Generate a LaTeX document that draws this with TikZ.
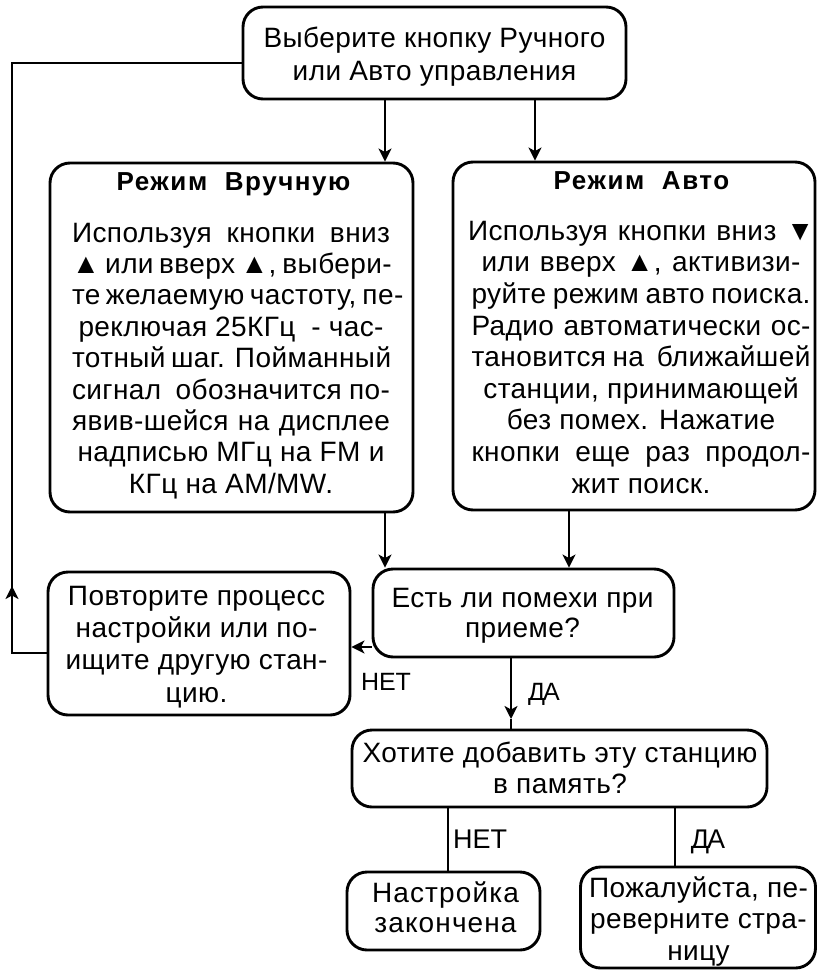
\documentclass[tikz,border=0pt]{standalone}
\usepackage{fontspec}
\setmainfont{Liberation Sans}
\usetikzlibrary{arrows.meta}
\newcommand\fs[2]{\fontsize{#1}{#2}\selectfont}
\newcommand\bd[1]{\fontsize{28}{#1}\selectfont\addfontfeature{LetterSpace=1.5}}
\newcommand\jl[2]{\makebox[#1][s]{#2}}
\begin{document}
\begin{tikzpicture}[x=1pt,y=-1pt,
  box/.style={draw, line width=2.9pt, rounded corners=20pt, inner sep=0pt},
  conn/.style={line width=2.4pt},
  arr/.style={conn, -{Stealth[length=13pt,width=13pt,inset=3.5pt]}},
  txt/.style={inner sep=0pt, align=center, anchor=north},
  lab/.style={inner sep=0pt, anchor=base, font=\fs{25}{30}},
  ttl/.style={inner sep=0pt, anchor=base, font=\fs{26}{30}\bfseries\addfontfeature{LetterSpace=6}}
]
\useasboundingbox (0,0) rectangle (818,971);
% boxes
\node[box, minimum width=383pt, minimum height=92pt] (top) at (434.5,53) {};
\node[box, minimum width=363pt, minimum height=349pt] (manual) at (231.5,337.5) {};
\node[box, minimum width=362pt, minimum height=348pt] (auto) at (634,336) {};
\node[box, minimum width=302pt, minimum height=143pt] (repeat) at (199,643.5) {};
\node[box, minimum width=301pt, minimum height=88pt] (est) at (523.5,613) {};
\node[box, minimum width=415pt, minimum height=77pt] (save) at (559.5,768.5) {};
\node[box, minimum width=193pt, minimum height=78pt] (done) at (443.5,911) {};
\node[box, minimum width=235pt, minimum height=101pt] (turn) at (698,917.5) {};
% texts
\node[txt, font=\bd{33}] (topT) at (434.5,23.9) {\strut Выберите кнопку Ручного\\или Авто управления};
\node[ttl] (manT) at (233.5,190) {Режим \ Вручную};
\node[ttl] (autT) at (641.5,189) {Режим \ Авто};
\node[txt, font=\bd{31.4}] (manB) at (231,220) {\strut\jl{318pt}{Используя кнопки вниз}\\
\jl{318pt}{▲ или вверх ▲, выбери-}\\
\jl{318pt}{те желаемую частоту, пе-}\\
\jl{305pt}{реключая 25КГц \ - час-}\\
\jl{318pt}{тотный шаг. Пойманный}\\
\jl{318pt}{сигнал \ обозначится по-}\\
\jl{318pt}{явив-шейся на дисплее}\\
надписью МГц на FM и\\
КГц на AM/MW.};
\node[txt, font=\bd{31.6}] (autB) at (641,218) {\strut\jl{346pt}{Используя кнопки вниз ▼}\\
\jl{319pt}{или вверх ▲, активизи-}\\
\jl{339pt}{руйте режим авто поиска.}\\
\jl{339pt}{Радио автоматически ос-}\\
\jl{339pt}{тановится на \ ближайшей}\\
станции, принимающей\\
без помех. Нажатие\\
\jl{339pt}{кнопки еще раз продол-}\\
жит поиск.};
\node[txt, font=\bd{30}] (estT) at (522.5,586) {\strut Есть ли помехи при\\приеме?};
\node[txt, font=\bd{32.3}] (repT) at (196.5,582.4) {\strut Повторите процесс\\настройки или по-\\ищите другую стан-\\цию.};
\node[txt, font=\bd{31}] (saveT) at (560,740.3) {\strut Хотите добавить эту станцию\\в память?};
\node[txt, font=\bd{30}\addfontfeature{LetterSpace=4}] (doneT) at (445.5,881) {\strut Настройка\\закончена};
\node[txt, font=\bd{31.5}] (turnT) at (698.5,875) {\strut Пожалуйста, пе-\\реверните стра-\\ницу};
% labels
\node[lab] (no1) at (386,690) {НЕТ};
\node[lab] (yes1) at (544,700) {Д\kern-2ptА};
\node[lab, font=\fs{27}{30}] (no2) at (480,848) {НЕТ};
\node[lab, font=\fs{27}{30}] (yes2) at (708,848) {Д\kern-2ptА};
% coordinates
\coordinate (xa) at (385,0);
\coordinate (xb) at (535,0);
\coordinate (xc) at (569,0);
\coordinate (xd) at (511,0);
\coordinate (xe) at (448,0);
\coordinate (xf) at (675,0);
\coordinate (ya) at (0,647);
\coordinate (lb) at (12,653);
\coordinate (la) at (12,586);
\coordinate (lt) at (12,63);
\coordinate (dm) at (511,719);
% connectors
\draw[arr] (top.south -| xa) -- (manual.north -| xa);
\draw[arr] (top.south -| xb) -- (auto.north -| xb);
\draw[arr] (manual.south -| xa) -- (est.north -| xa);
\draw[arr] (auto.south -| xc) -- (est.north -| xc);
\draw[arr] (est.west |- ya) -- (repeat.east |- ya);
\draw[arr] (est.south -| xd) -- (dm);
\draw[conn] (dm) -- (save.north -| xd);
\draw[conn] (save.south -| xe) -- (done.north -| xe);
\draw[conn] (save.south -| xf) -- (turn.north -| xf);
\draw[conn] (repeat.west |- lb) -- (lb) -- (lt) -- (top.west |- lt);
\draw[arr] (lb) -- (la);
\end{tikzpicture}
\end{document}
